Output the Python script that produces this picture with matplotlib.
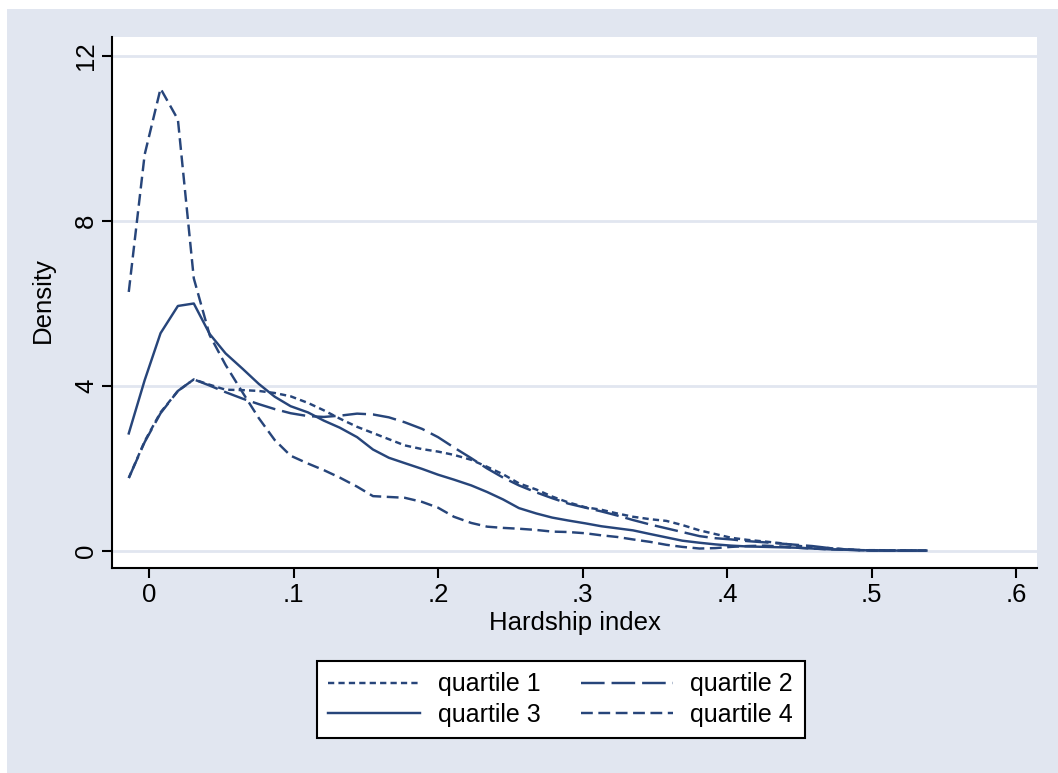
import matplotlib
matplotlib.use("Agg")
import matplotlib.pyplot as plt
from matplotlib.patches import Rectangle

# evaluation points of the kernel density (hardship index)
hardship = [-0.014, -0.003, 0.008, 0.020, 0.031, 0.042, 0.053, 0.065, 0.076, 0.087,
            0.098, 0.110, 0.121, 0.132, 0.144, 0.155, 0.166, 0.177, 0.189, 0.200,
            0.211, 0.223, 0.234, 0.245, 0.256, 0.268, 0.279, 0.290, 0.302, 0.313,
            0.324, 0.335, 0.347, 0.358, 0.369, 0.381, 0.392, 0.403, 0.414, 0.426,
            0.437, 0.448, 0.459, 0.471, 0.482, 0.493, 0.504, 0.516, 0.527, 0.538]

q1 = [1.76, 2.65, 3.35, 3.87, 4.15, 4.02, 3.90, 3.89, 3.87, 3.82,
      3.74, 3.58, 3.40, 3.20, 3.00, 2.85, 2.70, 2.55, 2.46, 2.40,
      2.32, 2.20, 2.03, 1.85, 1.63, 1.48, 1.31, 1.17, 1.05, 0.99,
      0.90, 0.82, 0.76, 0.72, 0.62, 0.49, 0.40, 0.31, 0.26, 0.22,
      0.18, 0.12, 0.08, 0.06, 0.03, 0.01, 0.01, 0.005, 0.0, 0.0]

q2 = [1.76, 2.63, 3.33, 3.87, 4.15, 4.00, 3.84, 3.68, 3.55, 3.43,
      3.33, 3.26, 3.24, 3.27, 3.32, 3.30, 3.23, 3.11, 2.95, 2.75,
      2.50, 2.24, 1.99, 1.77, 1.58, 1.41, 1.27, 1.14, 1.04, 0.95,
      0.85, 0.74, 0.63, 0.54, 0.45, 0.35, 0.30, 0.27, 0.23, 0.20,
      0.17, 0.14, 0.11, 0.06, 0.03, 0.01, 0.005, 0.0, 0.0, 0.0]

q3 = [2.84, 4.13, 5.27, 5.93, 5.99, 5.25, 4.78, 4.40, 4.04, 3.73,
      3.50, 3.35, 3.15, 2.98, 2.75, 2.45, 2.25, 2.12, 1.98, 1.84,
      1.72, 1.58, 1.42, 1.24, 1.03, 0.90, 0.80, 0.73, 0.66, 0.59,
      0.54, 0.49, 0.40, 0.32, 0.24, 0.19, 0.15, 0.12, 0.10, 0.09,
      0.08, 0.07, 0.05, 0.03, 0.02, 0.01, 0.0, 0.0, 0.0, 0.0]

q4 = [6.27, 9.60, 11.20, 10.45, 6.60, 5.22, 4.50, 3.82, 3.21, 2.68,
      2.30, 2.11, 1.95, 1.77, 1.55, 1.32, 1.30, 1.28, 1.18, 1.04,
      0.82, 0.67, 0.58, 0.55, 0.53, 0.50, 0.46, 0.45, 0.42, 0.37,
      0.33, 0.27, 0.21, 0.14, 0.09, 0.05, 0.06, 0.09, 0.11, 0.12,
      0.10, 0.07, 0.05, 0.03, 0.02, 0.01, 0.0, 0.0, 0.0, 0.0]

labels = ["quartile 1", "quartile 2", "quartile 3", "quartile 4"]
xticks = [0, 0.1, 0.2, 0.3, 0.4, 0.5, 0.6]
xticklabels = ["0", ".1", ".2", ".3", ".4", ".5", ".6"]
yticks = [0, 4, 8, 12]

navy = "#27457a"
bg = "#e1e6f0"
plt.rcParams["font.family"] = ["Liberation Sans", "DejaVu Sans"]
plt.rcParams["lines.scale_dashes"] = False

fig = plt.figure(figsize=(10.58, 7.73), dpi=100, facecolor="white")
fig.patches.append(Rectangle((7 / 1058, 0), 1, 1 - 9 / 773, transform=fig.transFigure,
                             facecolor=bg, edgecolor="none", zorder=-10))

ax = fig.add_axes([112 / 1058, 1 - 567.5 / 773, 925 / 1058, 530.5 / 773])
ax.set_facecolor("white")

lw = 1.75
l1, = ax.plot(hardship, q1, color=navy, lw=lw, dashes=(4.5, 3), label=labels[0])
l2, = ax.plot(hardship, q2, color=navy, lw=lw, dashes=(17, 5), label=labels[1])
l3, = ax.plot(hardship, q3, color=navy, lw=lw, label=labels[2])
l4, = ax.plot(hardship, q4, color=navy, lw=lw, dashes=(8.5, 4), label=labels[3])

ax.set_xlim(-0.0256, 0.6145)
ax.set_ylim(-0.41, 12.45)
for y in yticks:
    ax.axhline(y, color=bg, lw=2, zorder=0)

for s in ["top", "right"]:
    ax.spines[s].set_visible(False)
for s in ["left", "bottom"]:
    ax.spines[s].set_linewidth(1.5)
    ax.spines[s].set_color("black")

ax.set_xticks(xticks)
ax.set_xticklabels(xticklabels)
ax.set_yticks(yticks)
ax.set_yticklabels([str(y) for y in yticks], rotation=90, va="center")
ax.tick_params(axis="both", length=7, width=1.5, labelsize=18.5, direction="out")
ax.tick_params(axis="x", pad=4)
ax.tick_params(axis="y", pad=3)

ax.set_xlabel("Hardship index", fontsize=18.5, labelpad=3)
ax.set_ylabel("Density", fontsize=18.5)
ax.yaxis.set_label_coords(-0.062, 0.504)

# row-wise order like the original: q1 q2 / q3 q4
leg = fig.legend([l1, l3, l2, l4], [labels[0], labels[2], labels[1], labels[3]],
                 loc="center", bbox_to_anchor=(560.5 / 1058, 1 - 699.5 / 773), ncol=2,
                 fontsize=18, frameon=True, fancybox=False, edgecolor="black",
                 framealpha=1, handlelength=3.7, handletextpad=0.7, columnspacing=1.6,
                 labelspacing=0.25, borderpad=0.45, borderaxespad=0)
leg.get_frame().set_linewidth(1.5)
leg.get_frame().set_facecolor("white")

fig.savefig("out.png", dpi=100, facecolor=fig.get_facecolor())
